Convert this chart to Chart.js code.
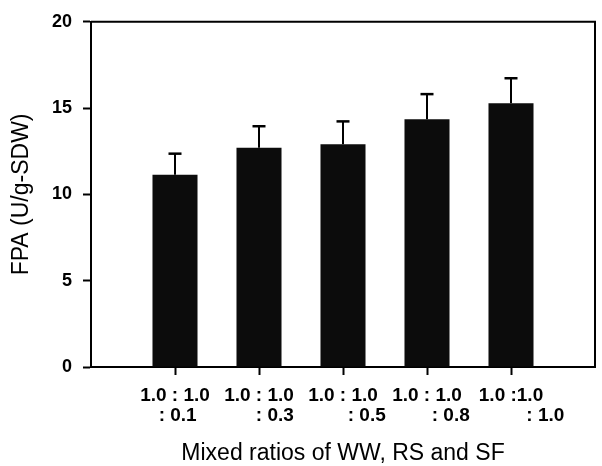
<!DOCTYPE html>
<html><head><meta charset="utf-8">
<script src="https://cdn.jsdelivr.net/npm/chart.js@4"></script>
<style>html,body{margin:0;padding:0;background:#fff}</style>
</head><body>
<canvas id="c" width="602" height="466"></canvas>
<script>
const positions = [1, 2, 3, 4, 5];
const ratioLine1 = ['1.0 : 1.0', '1.0 : 1.0', '1.0 : 1.0', '1.0 : 1.0', '1.0 :1.0'];
const ratioLine2 = [' : 0.1', '      : 0.3', '         : 0.5', '         : 0.8', '             : 1.0'];
const fpaMean = [11.14, 12.70, 12.91, 14.36, 15.28];
const fpaError = [1.22, 1.25, 1.32, 1.45, 1.45];
const yTickValues = [0, 5, 10, 15, 20];
const xTitle = 'Mixed ratios of WW, RS and SF';
const yTitle = 'FPA (U/g-SDW)';

const FONT = "'Liberation Sans', Arial, Helvetica, sans-serif";

const errorBars = {
  id: 'errorBars',
  afterDatasetsDraw(chart) {
    const {ctx, scales: {x, y}} = chart;
    ctx.save();
    ctx.strokeStyle = '#000';
    fpaMean.forEach((m, i) => {
      const px = Math.round(x.getPixelForValue(positions[i]));
      const top = y.getPixelForValue(m);
      const e = y.getPixelForValue(m + fpaError[i]);
      ctx.lineWidth = 2;
      ctx.beginPath(); ctx.moveTo(px, top); ctx.lineTo(px, e); ctx.stroke();
      ctx.lineWidth = 2.5;
      ctx.beginPath(); ctx.moveTo(px - 6.5, e); ctx.lineTo(px + 6.5, e); ctx.stroke();
    });
    ctx.restore();
  }
};

const frame = {
  id: 'frame',
  afterDraw(chart) {
    const {ctx, chartArea: a} = chart;
    ctx.save();
    ctx.strokeStyle = '#000';
    ctx.lineWidth = 2;
    ctx.beginPath();
    ctx.moveTo(a.left, a.top);
    ctx.lineTo(a.right, a.top);
    ctx.lineTo(a.right, a.bottom);
    ctx.stroke();
    ctx.restore();
  }
};

new Chart(document.getElementById('c'), {
  type: 'bar',
  data: {
    datasets: [{
      data: positions.map((p, i) => ({x: p, y: fpaMean[i]})),
      backgroundColor: '#0c0c0c',
      borderWidth: 0,
      barPercentage: 0.536,
      categoryPercentage: 1
    }]
  },
  options: {
    responsive: false,
    animation: false,
    layout: {padding: {top: 17, right: 7, left: 0, bottom: 0}},
    plugins: {legend: {display: false}, tooltip: {enabled: false}},
    scales: {
      x: {
        type: 'linear',
        min: 0, max: 6,
        offset: false,
        afterBuildTicks: s => { s.ticks = positions.map(v => ({value: v})); },
        afterFit: s => { s.height = 99; },
        grid: {display: true, offset: false, drawOnChartArea: false, drawTicks: true, tickLength: 8, tickWidth: 2, tickColor: '#000'},
        border: {display: true, color: '#000', width: 2},
        ticks: {
          autoSkip: false, maxRotation: 0, minRotation: 0,
          padding: 11,
          color: '#000',
          font: {family: FONT, size: 19, weight: 'bold', lineHeight: 1.053},
          callback: v => [ratioLine1[v - 1], ratioLine2[v - 1]]
        },
        title: {display: true, text: xTitle, color: '#000', padding: {top: 0, bottom: 0},
          font: {family: FONT, size: 23, weight: 'normal', lineHeight: 1.05}}
      },
      y: {
        min: 0, max: 20,
        afterBuildTicks: s => { s.ticks = yTickValues.map(v => ({value: v})); },
        afterFit: s => { s.width = 91; },
        grid: {display: true, drawOnChartArea: false, drawTicks: true, tickLength: 8, tickWidth: 2, tickColor: '#000'},
        border: {display: true, color: '#000', width: 2},
        ticks: {padding: 11, color: '#000', font: {family: FONT, size: 18, weight: 'bold'}},
        title: {display: true, text: yTitle, color: '#000', padding: {top: 10, bottom: 0},
          font: {family: FONT, size: 23, weight: 'normal', lineHeight: 1.05}}
      }
    }
  },
  plugins: [errorBars, frame]
});
</script>
</body></html>
